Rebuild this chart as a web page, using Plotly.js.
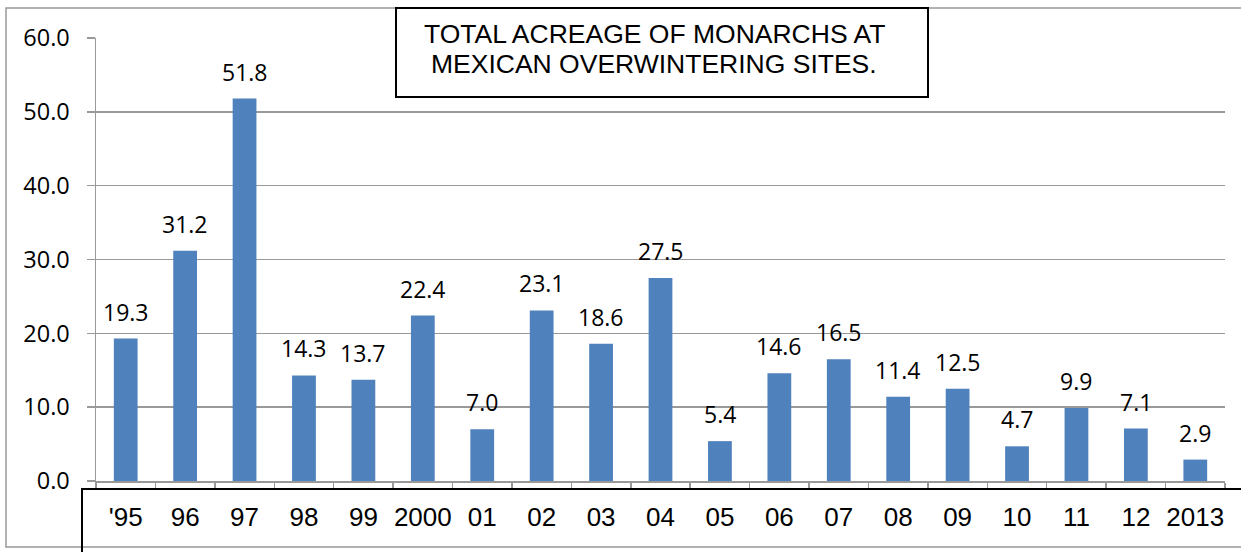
<!DOCTYPE html>
<html>
<head>
<meta charset="utf-8">
<script src="https://cdn.plot.ly/plotly-3.0.1.min.js"></script>
<style>html,body{margin:0;padding:0;background:#fff;}#chart{width:1241px;height:552px;}</style>
</head>
<body>
<div id="chart"></div>
<script>
const categories = ["'95","96","97","98","99","2000","01","02","03","04","05","06","07","08","09","10","11","12","2013"];
const acreage = [19.3, 31.2, 51.8, 14.3, 13.7, 22.4, 7.0, 23.1, 18.6, 27.5, 5.4, 14.6, 16.5, 11.4, 12.5, 4.7, 9.9, 7.1, 2.9];
const titleLines = ["TOTAL ACREAGE OF MONARCHS AT", "MEXICAN OVERWINTERING SITES."];

const W = 1241, H = 552;
const M = {l: 96, r: 16, t: 38, b: 71};
const pw = W - M.l - M.r, ph = H - M.t - M.b;
const px = x => (x - M.l) / pw;
const py = y => (H - M.b - y) / ph;

const trace = {
  type: 'bar',
  x: categories,
  y: acreage,
  marker: {color: '#4F81BD'},
  hoverinfo: 'skip'
};

const labelAnns = categories.map((c, i) => ({
  x: i, y: acreage[i], xref: 'x', yref: 'y',
  text: acreage[i].toFixed(1),
  showarrow: false, yanchor: 'middle', yshift: 27,
  font: {family: 'Open Sans', size: 23, color: '#000'}
}));

const titleAnns = titleLines.map((t, i) => ({
  x: px(654), y: py(34 + i * 30), xref: 'paper', yref: 'paper',
  text: t, showarrow: false, xanchor: 'center', yanchor: 'middle',
  font: {family: 'Liberation Sans, Arial', size: 26.5, color: '#000'}
}));

const layout = {
  width: W, height: H,
  margin: M,
  paper_bgcolor: '#fff', plot_bgcolor: '#fff',
  showlegend: false,
  bargap: 0.6,
  xaxis: {
    type: 'category',
    categoryorder: 'array', categoryarray: categories,
    range: [-0.5, categories.length - 0.5], autorange: false,
    showline: true, linecolor: '#999', linewidth: 1.5,
    ticks: 'outside', tickson: 'boundaries', ticklen: 6, tickcolor: '#999', tickwidth: 1.5,
    tickangle: 0,
    ticklabelstandoff: 12,
    tickfont: {family: 'Liberation Sans, Arial', size: 26, color: '#000'},
    showgrid: false, fixedrange: true
  },
  yaxis: {
    range: [0, 60], autorange: false, dtick: 10, tickformat: '.1f',
    showline: true, linecolor: '#999', linewidth: 1.5,
    ticks: 'outside', ticklen: 8, tickcolor: '#999', tickwidth: 1.5,
    ticklabelstandoff: 12,
    gridcolor: '#999', gridwidth: 1.5,
    zeroline: false,
    tickfont: {family: 'Open Sans', size: 23.5, color: '#000'},
    fixedrange: true
  },
  shapes: [
    {type: 'rect', xref: 'paper', yref: 'paper', x0: px(6), x1: px(1260), y0: py(8), y1: py(547),
     line: {color: '#999', width: 1.5}, layer: 'below'},
    {type: 'rect', xref: 'paper', yref: 'paper', x0: px(82), x1: px(1260), y0: py(489), y1: py(570),
     line: {color: '#000', width: 2}, fillcolor: 'rgba(0,0,0,0)', layer: 'above'},
    {type: 'rect', xref: 'paper', yref: 'paper', x0: px(396), x1: px(928), y0: py(8), y1: py(97),
     line: {color: '#000', width: 2}, fillcolor: '#fff', layer: 'above'}
  ],
  annotations: labelAnns.concat(titleAnns)
};

Plotly.newPlot('chart', [trace], layout, {displayModeBar: false, staticPlot: true});
</script>
</body>
</html>
